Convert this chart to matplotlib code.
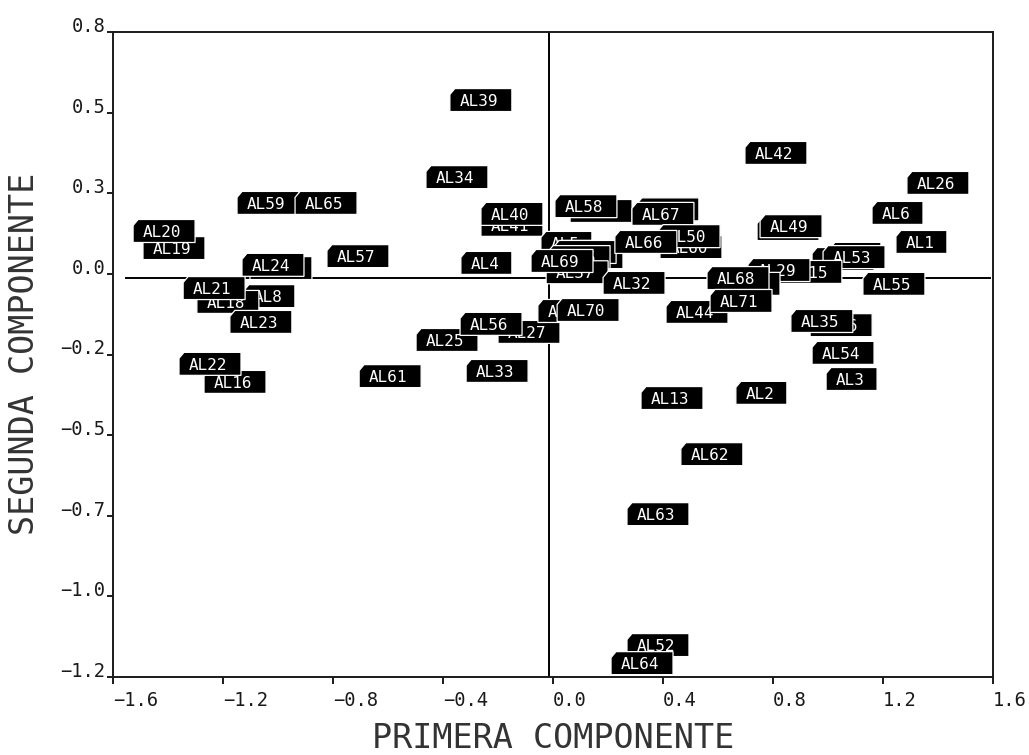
import matplotlib
matplotlib.use("Agg")
import matplotlib.pyplot as plt
from matplotlib.patches import Polygon
from matplotlib import transforms

# Object labels, in drawing order (later labels are drawn on top)
names = [
    "AL19", "AL20", "AL59", "AL65", "AL57", "AL17", "AL24", "AL8", "AL18",
    "AL21", "AL23", "AL16", "AL22", "AL61",
    "AL39", "AL34", "AL41", "AL40", "AL4", "AL27", "AL25", "AL56", "AL33",
    "AL30", "AL70",
    "AL5", "AL28", "AL38", "AL48", "AL47", "AL46", "AL37", "AL69", "AL32",
    "AL31", "AL58", "AL11", "AL67", "AL60", "AL50", "AL66",
    "AL42", "AL26", "AL6", "AL43", "AL49", "AL1", "AL9", "AL10", "AL53",
    "AL15", "AL29", "AL12", "AL68", "AL44", "AL71", "AL55", "AL36", "AL35",
    "AL54", "AL3", "AL13", "AL2", "AL62", "AL63", "AL52", "AL64",
]

# First principal component scores
pc1 = [
    -1.491, -1.527, -1.149, -0.938, -0.822, -1.102, -1.131, -1.124, -1.295,
    -1.345, -1.175, -1.269, -1.360, -0.705,
    -0.375, -0.462, -0.262, -0.262, -0.335, -0.200, -0.498, -0.338, -0.316,
    -0.055, 0.015,
    -0.044, 0.015, 0.000, 0.029, 0.004, -0.018, -0.025, -0.080, 0.182,
    0.062, 0.007, 0.305, 0.287, 0.389, 0.382, 0.225,
    0.698, 1.287, 1.160, 0.742, 0.753, 1.247, 1.007, 0.942, 0.982,
    0.825, 0.709, 0.600, 0.560, 0.411, 0.571, 1.127, 0.935, 0.865,
    0.942, 0.993, 0.320, 0.665, 0.465, 0.269, 0.269, 0.211,
]

# Second principal component scores
pc2 = [
    0.080, 0.133, 0.220, 0.220, 0.055, 0.018, 0.028, -0.069, -0.087,
    -0.044, -0.149, -0.335, -0.279, -0.317,
    0.539, 0.300, 0.152, 0.186, 0.034, -0.180, -0.205, -0.155, -0.301,
    -0.115, -0.112,
    0.096, 0.068, 0.058, 0.052, 0.068, 0.052, 0.005, 0.040, -0.028,
    0.195, 0.210, 0.200, 0.186, 0.083, 0.117, 0.099,
    0.375, 0.282, 0.189, 0.139, 0.148, 0.099, 0.062, 0.046, 0.052,
    0.006, 0.012, -0.031, -0.013, -0.118, -0.084, -0.031, -0.159, -0.146,
    -0.245, -0.326, -0.385, -0.369, -0.559, -0.745, -1.151, -1.207,
]

# Reference lines (mean of each component)
mean_pc1 = -0.016
mean_pc2 = -0.012
hline_span = (-1.553, 1.589)

xticks = [-1.6, -1.2, -0.8, -0.4, 0.0, 0.4, 0.8, 1.2, 1.6]
xticklabels = ["\u22121.6", "\u22121.2", "\u22120.8", "\u22120.4", "0.0", "0.4", "0.8", "1.2", "1.6"]
yticks = [0.75, 0.5, 0.25, 0.0, -0.25, -0.5, -0.75, -1.0, -1.25]
yticklabels = ["0.8", "0.5", "0.3", "0.0", "\u22120.2", "\u22120.5", "\u22120.7", "\u22121.0", "\u22121.2"]

DPI = 100
fig = plt.figure(figsize=(10.29, 7.55), dpi=DPI)
ax = fig.add_axes([113 / 1029, 1 - 677 / 755, 880 / 1029, 645 / 755])
ax.set_xlim(-1.6, 1.6)
ax.set_ylim(-1.25, 0.75)

mono = "DejaVu Sans Mono"
ink = "#1a1a1a"

for sp in ax.spines.values():
    sp.set_linewidth(1.4)
    sp.set_color(ink)

ax.set_xticks(xticks)
ax.set_xticklabels(xticklabels, fontfamily=mono, fontsize=13.5, color=ink, ha="left")
ax.set_yticks(yticks)
ax.set_yticklabels(yticklabels, fontfamily=mono, fontsize=13.5, color=ink, va="baseline")
ax.tick_params(axis="x", direction="out", length=5, width=1.4, pad=5, color=ink)
ax.tick_params(axis="y", direction="out", length=4.5, width=1.4, pad=1, color=ink)

# Crosshair through the component means
ax.axvline(mean_pc1, color="black", lw=1.4, zorder=1)
ax.plot(hline_span, [mean_pc2, mean_pc2], color="black", lw=1.4, zorder=1)

# Tag-shaped labels: black box with a clipped top-left corner, white text
H = 23.0          # box height, px
NOTCH_X, NOTCH_Y = 5.0, 6.0

def tag_vertices(n_chars):
    w = 18.0 + 11.0 * n_chars
    pts = [(0, -H / 2), (w, -H / 2), (w, H / 2), (NOTCH_X, H / 2),
           (0, H / 2 - NOTCH_Y)]
    return [(px / DPI, py / DPI) for px, py in pts]

for i, (name, x, y) in enumerate(zip(names, pc1, pc2)):
    trans = fig.dpi_scale_trans + transforms.ScaledTranslation(x, y, ax.transData)
    z = 3 + i * 0.01
    poly = Polygon(tag_vertices(len(name)), closed=True, facecolor="black",
                   edgecolor="white", linewidth=0.9, transform=trans, zorder=z)
    ax.add_patch(poly)
    ax.text(10 / DPI, -6 / DPI, name, transform=trans, ha="left", va="baseline",
            color="white", fontfamily=mono, fontsize=11.5, zorder=z + 0.005)

fig.text(553 / 1029, 1 - 748 / 755, "PRIMERA COMPONENTE", ha="center", va="baseline",
         fontfamily=mono, fontsize=24, color="#333333")
fig.text(25 / 1029, 1 - 354 / 755, "SEGUNDA COMPONENTE", ha="center", va="center",
         rotation=90, fontfamily=mono, fontsize=24, color="#333333")

fig.savefig("out.png", dpi=DPI, facecolor="white")
